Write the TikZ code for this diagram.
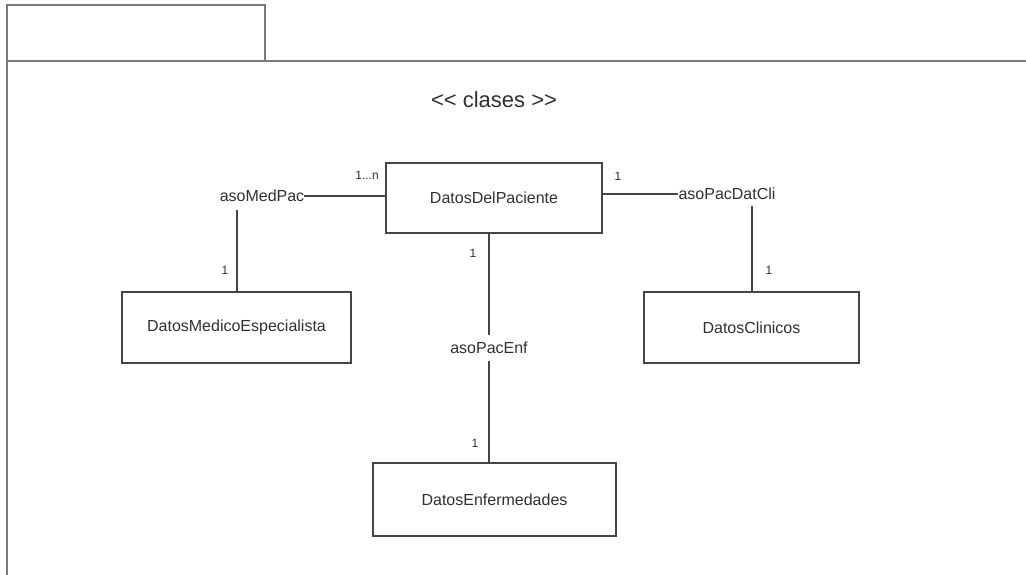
\documentclass[tikz,border=0pt]{standalone}
\usepackage{fontspec}
\setmainfont{Liberation Sans}
\definecolor{framegray}{HTML}{7A7A7A}
\definecolor{linegray}{HTML}{454545}
\definecolor{txtgray}{HTML}{303030}
\begin{document}
\begin{tikzpicture}[x=1pt,y=-1pt,
  framestyle/.style={draw=framegray,line width=2.2pt},
  classbox/.style={draw=linegray,line width=1.9pt,rectangle,inner sep=0pt,
    text=txtgray,font=\fontsize{16}{18}\selectfont},
  assoclabel/.style={inner xsep=0pt,inner ysep=6pt,text=txtgray,font=\fontsize{16}{18}\selectfont},
  multlabel/.style={inner sep=0pt,text=txtgray,font=\fontsize{12}{14}\selectfont},
  conn/.style={draw=linegray,line width=2pt}]
\useasboundingbox (0,0) rectangle (1026,575);
% package frame
\draw[framestyle] (7,61) -- (7,5) -- (265,5) -- (265,61);
\draw[framestyle] (7,575) -- (7,61) -- (1026,61);
\node[text=txtgray,font=\fontsize{22}{24}\selectfont] (stereo) at (494,100) {{<}{<} clases {>}{>}};
% classes
\node[classbox,minimum width=216pt,minimum height=70pt] (paciente) at (494,198) {DatosDelPaciente};
\node[classbox,minimum width=229pt,minimum height=71pt] (medico) at (236.5,327.5) {DatosMedicoEspecialista};
\node[classbox,minimum width=215pt,minimum height=71pt] (clinicos) at (751.5,327.5) {DatosClinicos};
\node[classbox,minimum width=243pt,minimum height=73pt] (enferm) at (494.5,499.5) {DatosEnfermedades};
% association labels
\node[assoclabel,inner ysep=8pt] (medpac) at (262,196) {asoMedPac};
\node[assoclabel,inner ysep=6pt] (datcli) at (727,194) {asoPacDatCli};
\node[assoclabel,inner ysep=6.5pt] (pacenf) at (489,348) {asoPacEnf};
% connectors
\draw[conn] (paciente.west |- medpac.east) -- (medpac.east);
\draw[conn] (medico.north) -- (medico.north |- medpac.south);
\draw[conn] (paciente.east |- datcli.west) -- (datcli.west);
\draw[conn] (clinicos.north) -- (clinicos.north |- datcli.south);
\draw[conn] (paciente.south -| pacenf.north) -- (pacenf.north);
\draw[conn] (pacenf.south) -- (enferm.north -| pacenf.south);
% multiplicities
\node[multlabel] (m1) at (367,175) {1...n};
\node[multlabel] (m2) at (618,176) {1};
\node[multlabel] (m3) at (225,270) {1};
\node[multlabel] (m4) at (769,270) {1};
\node[multlabel] (m5) at (473,253) {1};
\node[multlabel] (m6) at (475,443) {1};
\end{tikzpicture}
\end{document}
